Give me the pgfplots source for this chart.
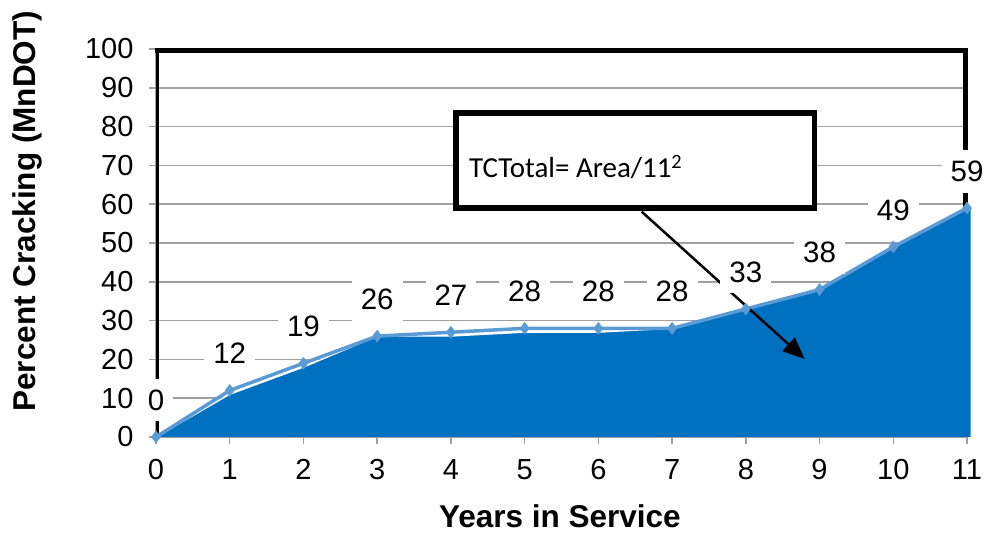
\documentclass[border=0pt]{standalone}
\usepackage{pgfplots}
\pgfplotsset{compat=1.18}
\usepackage{fontspec}
\setmainfont{Liberation Sans}
\newfontfamily\calfont{Carlito}
\usetikzlibrary{arrows.meta}
\definecolor{areablue}{HTML}{0070C0}
\definecolor{lineblue}{HTML}{5B9BD5}
\definecolor{gridgray}{HTML}{A0A0A0}
\begin{document}
\begin{tikzpicture}
\path[use as bounding box] (0,0) rectangle (985pt,537pt);
\begin{axis}[
  at={(156pt,100pt)}, anchor=south west,
  scale only axis, width=811pt, height=388pt,
  xmin=0, xmax=11, ymin=0, ymax=100,
  clip=false,
  axis x line=bottom, axis y line=left,
  axis line style={-, draw=gridgray, line width=1.5pt},
  xtick={0,...,11}, ytick={0,10,...,100},
  ymajorgrids, grid style={gridgray, line width=1.5pt},
  tick align=outside, major tick length=7pt,
  tick style={gridgray, line width=1.5pt},
  /pgf/number format/assume math mode=true,
  tick label style={font=\fontsize{29}{34}\selectfont, black},
  yticklabel style={anchor=east, xshift=-12pt},
  xticklabel style={anchor=north, yshift=-12pt},
  xlabel={Years in Service},
  ylabel={Percent Cracking (MnDOT)},
  label style={font=\bfseries\fontsize{31.5}{36}\selectfont},
  xlabel style={at={(axis description cs:0.498,-0.205)}, anchor=center},
  ylabel style={at={(axis description cs:-0.158,0.582)}, anchor=center},
]
% filled area
\addplot[fill=areablue, draw=none] coordinates {
 (0,0) (1,11) (2,18) (3,26) (4,26) (5,27) (6,27) (7,28) (8,33) (9,38) (10,49) (11,59) (11.05,59) (11.05,0)} \closedcycle;
\addplot[white, line width=1.2pt] coordinates {
 (0,0) (1,11) (2,18) (3,26) (4,26) (5,27) (6,27) (7,28)};
% bracket
\draw[black, line width=2.5pt] ([xshift=1.5pt]axis cs:0,0) -- ([xshift=1.5pt]axis cs:0,99.7);
\draw[black, line width=5pt, line cap=butt] ([xshift=-1pt]axis cs:0,99.7) -- (axis cs:10.98,99.7) -- (axis cs:10.98,59);
% line with labels
\addplot[lineblue, line width=3.5pt, mark=diamond*, mark size=6pt,
  mark options={fill=lineblue, line width=0.5pt},
  nodes near coords,
  every node near coord/.append style={font=\fontsize{29.5}{34}\selectfont, black,
     fill=white, inner xsep=9pt, inner ysep=11pt, anchor=center, yshift=37pt},
  point meta=explicit symbolic]
 coordinates {
 (0,0)[0] (1,12)[12] (2,19)[19] (3,26)[26] (4,27)[27] (5,28)[28] (6,28)[28] (7,28)[28] (8,33)[33] (9,38)[38] (10,49)[49] (11,59)[59]};
% annotation box and arrow
\draw[black, line width=5.5pt, fill=white] (axis cs:4.069,83.5) rectangle (axis cs:8.931,59.0);
\node[anchor=west, inner sep=0pt, font=\calfont\fontsize{29}{34}\selectfont] at (axis cs:4.245,69.6) {TCTotal= Area/11\textsuperscript{2}};
\draw[black, line width=2.5pt, -{Triangle[length=22pt, width=18pt]}] (axis cs:6.588,58.07) -- (axis cs:8.80,20.1);
\end{axis}
\end{tikzpicture}
\end{document}
